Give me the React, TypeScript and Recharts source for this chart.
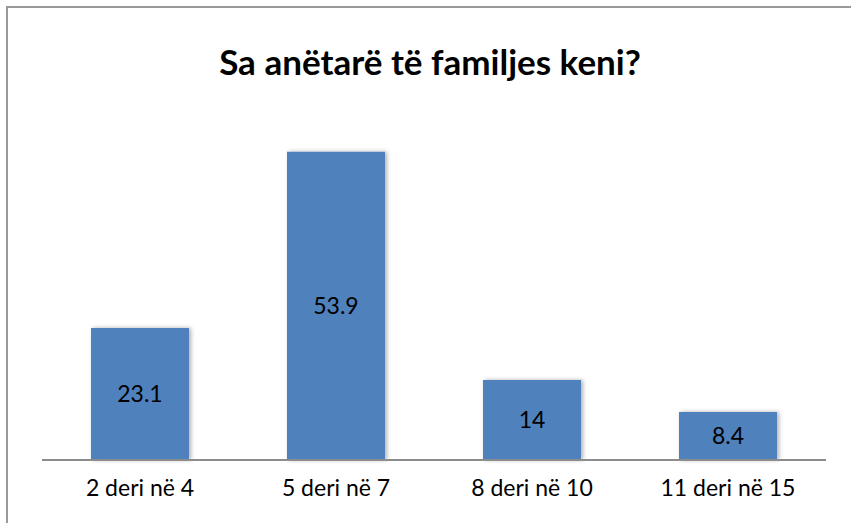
import React from 'react';
import { BarChart, Bar, XAxis, YAxis, LabelList } from 'recharts';

const categories = ['2 deri në 4', '5 deri në 7', '8 deri në 10', '11 deri në 15'];
const values = [23.1, 53.9, 14, 8.4];

const data = categories.map((name, i) => ({ name, value: values[i] }));

const FONT = 'Lato, "Open Sans", "Liberation Sans", sans-serif';

export default function App() {
  return (
    <div style={{ position: 'absolute', left: 0, top: 0, width: 851, height: 523, background: '#fff', overflow: 'hidden' }}>
      <div
        style={{
          position: 'absolute',
          left: 6,
          top: 6,
          width: 900,
          height: 600,
          borderLeft: '2px solid #999',
          borderTop: '2px solid #999',
        }}
      />
      <div
        style={{
          position: 'absolute',
          left: 0,
          top: 39,
          width: 860,
          textAlign: 'center',
          fontFamily: FONT,
          fontWeight: 'bold',
          fontSize: 35,
          lineHeight: '44px',
          color: '#000',
        }}
      >
        Sa anëtarë të familjes keni?
      </div>
      <div style={{ position: 'absolute', left: 0, top: 0 }}>
        <BarChart
          width={851}
          height={523}
          data={data}
          margin={{ top: 117, right: 25, bottom: 0, left: 42 }}
          barCategoryGap="25%"
        >
          <defs>
            <filter id="barShadow" x="-20%" y="-20%" width="140%" height="140%">
              <feDropShadow dx="2" dy="0" stdDeviation="2" floodColor="#000" floodOpacity="0.3" />
            </filter>
          </defs>
          <XAxis
            dataKey="name"
            height={63}
            tickLine={false}
            axisLine={{ stroke: '#8c8c8c', strokeWidth: 2 }}
            tick={{ fill: '#000', fontSize: 23, fontFamily: FONT }}
            tickMargin={14}
            interval={0}
          />
          <YAxis hide domain={[0, 60]} />
          <Bar dataKey="value" fill="#4F81BD" isAnimationActive={false} filter="url(#barShadow)">
            <LabelList
              dataKey="value"
              position="center"
              fill="#000"
              fontSize={23}
              fontFamily={FONT}
            />
          </Bar>
        </BarChart>
      </div>
    </div>
  );
}
